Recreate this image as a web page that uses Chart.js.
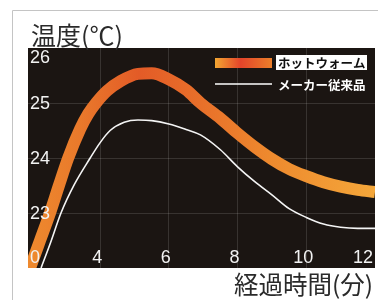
<!DOCTYPE html>
<html>
<head>
<meta charset="utf-8">
<script src="https://cdn.jsdelivr.net/npm/chart.js@4"></script>
<style>
  body { margin: 0; background: #fff; }
  #wrap { position: relative; width: 378px; height: 300px; }
</style>
</head>
<body>
<div id="wrap"><canvas id="tempChart" width="378" height="300"></canvas></div>
<script>
// data
const hotWarmMinutes = [1.9, 2.0, 2.25, 2.54, 2.8, 3.07, 3.42, 3.65, 3.88, 4.2, 4.6, 5.1, 5.5, 6.0, 6.5, 6.92, 7.5, 8.0, 8.5, 9.0, 9.5, 10.0, 10.5, 11.0, 11.5, 12.0];
const hotWarmTemps   = [21.9, 22.07, 22.5, 23.0, 23.5, 24.0, 24.53, 24.8, 25.0, 25.22, 25.4, 25.53, 25.54, 25.43, 25.24, 25.0, 24.72, 24.45, 24.2, 23.98, 23.8, 23.67, 23.56, 23.48, 23.42, 23.38];
const conventionalMinutes = [2.28, 2.55, 2.86, 3.25, 3.71, 4.0, 4.29, 4.7, 5.1, 5.5, 6.0, 6.5, 6.92, 7.5, 8.0, 8.5, 9.0, 9.5, 10.0, 10.5, 11.0, 11.5, 12.0];
const conventionalTemps   = [22.0, 22.45, 23.0, 23.52, 24.0, 24.28, 24.5, 24.65, 24.69, 24.68, 24.62, 24.52, 24.42, 24.15, 23.84, 23.57, 23.33, 23.08, 22.92, 22.8, 22.74, 22.72, 22.72];
const xTickLabels = [4, 6, 8, 10, 12];
const yTickLabels = [23, 24, 25, 26];
const seriesNames = ['ホットウォーム', 'メーカー従来品'];

function toPoints(xs, ys) {
  return xs.map((x, i) => ({ x: x, y: ys[i] }));
}

function bandGradient(ctx) {
  const area = ctx.chart.chartArea;
  if (!area) return '#e97f2c';
  const g = ctx.chart.ctx.createLinearGradient(area.left, 0, area.right, 0);
  g.addColorStop(0, '#ee8a2e');
  g.addColorStop(0.15, '#e9792b');
  g.addColorStop(0.32, '#e35b27');
  g.addColorStop(0.5, '#e8702a');
  g.addColorStop(0.7, '#ee8a2e');
  g.addColorStop(1, '#f4a73a');
  return g;
}

const labelPlugin = {
  id: 'labelPlugin',
  beforeDraw(chart) {
    const c = chart.ctx, a = chart.chartArea;
    c.save();
    // frame lines
    c.strokeStyle = '#c4c4c4';
    c.lineWidth = 1;
    c.beginPath();
    c.moveTo(12.5, 300); c.lineTo(12.5, 10.5); c.lineTo(378, 10.5);
    c.stroke();
    // plot background
    c.fillStyle = '#1b1512';
    c.fillRect(a.left, a.top, a.right - a.left, a.bottom - a.top);
    c.restore();
  },
  afterDraw(chart) {
    const c = chart.ctx, a = chart.chartArea;
    const xs = chart.scales.x, ys = chart.scales.y;
    c.save();
    c.fillStyle = '#f2f2f2';
    c.font = '18px "Liberation Sans", Arial, sans-serif';
    c.textBaseline = 'middle';
    // y tick labels
    c.textAlign = 'left';
    yTickLabels.forEach(v => {
      let y = ys.getPixelForValue(v) + 1.5;
      if (y < a.top + 10) y = a.top + 10;
      c.fillText(String(v), a.left + 2, y);
    });
    // x tick labels
    const ly = a.bottom - 10;
    c.fillText('0', a.left + 2, ly);
    xTickLabels.forEach(v => {
      const x = xs.getPixelForValue(v);
      if (x > a.right - 10) {
        c.textAlign = 'right';
        c.fillText(String(v), a.right - 2, ly);
      } else {
        c.textAlign = 'center';
        c.fillText(String(v), x - 3, ly);
      }
    });
    // titles
    c.fillStyle = '#2a2a2a';
    c.font = '25px "Noto Sans CJK JP", sans-serif';
    c.textAlign = 'left';
    c.fillText('温度(℃)', 31, 35);
    c.font = '24.5px "Noto Sans CJK JP", sans-serif';
    c.textAlign = 'right';
    c.fillText('経過時間(分)', 373, 285);
    // legend
    const lg = c.createLinearGradient(215, 0, 272, 0);
    lg.addColorStop(0, '#f2a632');
    lg.addColorStop(0.45, '#e3442a');
    lg.addColorStop(1, '#ec7f2a');
    c.fillStyle = lg;
    c.fillRect(215, 58, 57, 10);
    c.fillStyle = '#ffffff';
    c.fillRect(276, 55, 91, 15);
    c.font = 'bold 12.5px "Noto Sans CJK JP", sans-serif';
    c.textAlign = 'left';
    c.fillStyle = '#111';
    c.fillText(seriesNames[0], 278, 63);
    c.strokeStyle = '#ffffff';
    c.lineWidth = 1.5;
    c.beginPath();
    c.moveTo(215, 84); c.lineTo(272, 84);
    c.stroke();
    c.fillStyle = '#ffffff';
    c.fillText(seriesNames[1], 278, 85);
    c.restore();
  }
};

const ctx = document.getElementById('tempChart').getContext('2d');
const tempChart = new Chart(ctx, {
  type: 'line',
  data: {
    datasets: [{
      label: seriesNames[1],
      data: toPoints(conventionalMinutes, conventionalTemps),
      borderColor: '#f4f4f4',
      borderWidth: 1.6,
      pointRadius: 0,
      cubicInterpolationMode: 'monotone',
      fill: false
    }, {
      label: seriesNames[0],
      data: toPoints(hotWarmMinutes, hotWarmTemps),
      borderColor: bandGradient,
      borderWidth: 12,
      pointRadius: 0,
      cubicInterpolationMode: 'monotone',
      fill: false
    }]
  },
  options: {
    responsive: false,
    animation: false,
    layout: { padding: { left: 28, top: 48, right: 3, bottom: 32 } },
    plugins: { legend: { display: false }, tooltip: { enabled: false } },
    scales: {
      x: {
        type: 'linear',
        min: 1.9,
        max: 12,
        afterBuildTicks: (axis) => { axis.ticks = [4, 6, 8, 10].map(v => ({ value: v })); },
        ticks: { display: false },
        grid: { color: 'rgba(255,255,255,0.13)', drawTicks: false },
        border: { display: false }
      },
      y: {
        min: 22,
        max: 26,
        afterBuildTicks: (axis) => { axis.ticks = [23, 24, 25].map(v => ({ value: v })); },
        ticks: { display: false },
        grid: { color: 'rgba(255,255,255,0.13)', drawTicks: false },
        border: { display: false }
      }
    }
  },
  plugins: [labelPlugin]
});
</script>
</body>
</html>
